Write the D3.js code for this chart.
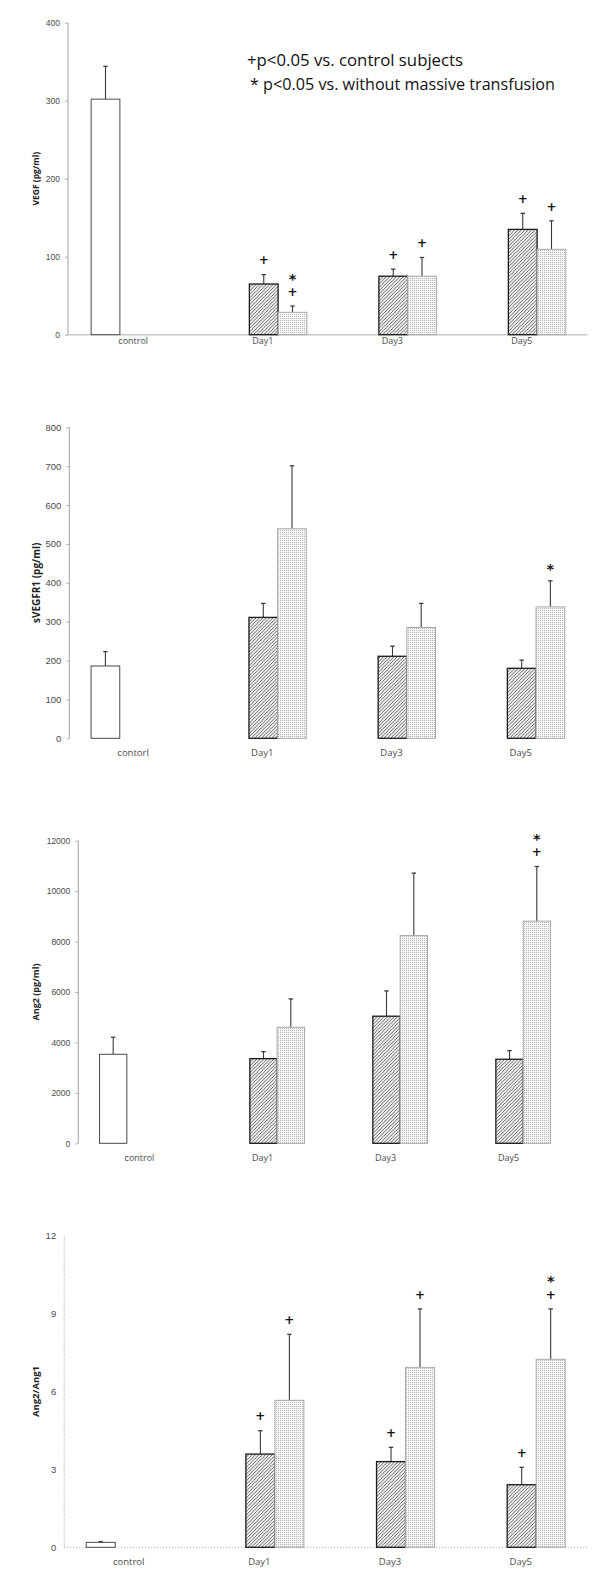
<!DOCTYPE html>
<html><head><meta charset="utf-8">
<script src="https://cdn.jsdelivr.net/npm/d3@7/dist/d3.min.js"></script>
<style>
html,body{margin:0;padding:0;background:#fff;}
svg{display:block;}
</style></head>
<body>
<svg id="chart" width="600" height="1588"></svg>
<script>
// ---------------- DATA ----------------
const categories = ["control", "Day1", "Day3", "Day5"];
const seriesNames = ["control subjects", "without massive transfusion", "with massive transfusion"];

// Panel 1: VEGF (pg/ml)
const vegfLabels = ["control", "Day1", "Day3", "Day5"];
const vegfTicks = [0, 100, 200, 300, 400];
const vegfControl = [302], vegfControlSD = [42];
const vegfWithout = [65, 75, 135], vegfWithoutSD = [12, 9, 20.6];
const vegfWith = [28.7, 75, 109.5], vegfWithSD = [8, 24, 36.5];
const vegfMarks = [["Day1", 1, ["+"]], ["Day1", 2, ["+", "*"]], ["Day3", 1, ["+"]], ["Day3", 2, ["+"]], ["Day5", 1, ["+"]], ["Day5", 2, ["+"]]];

// Panel 2: sVEGFR1 (pg/ml)
const sflLabels = ["contorl", "Day1", "Day3", "Day5"];
const sflTicks = [0, 100, 200, 300, 400, 500, 600, 700, 800];
const sflControl = [186], sflControlSD = [37];
const sflWithout = [311, 211, 180], sflWithoutSD = [36, 26, 21];
const sflWith = [539, 285, 338], sflWithSD = [162, 62, 67];
const sflMarks = [["Day5", 2, ["*"]]];

// Panel 3: Ang2 (pg/ml)
const ang2Labels = ["control", "Day1", "Day3", "Day5"];
const ang2Ticks = [0, 2000, 4000, 6000, 8000, 10000, 12000];
const ang2Control = [3530], ang2ControlSD = [676];
const ang2Without = [3357, 5040, 3333], ang2WithoutSD = [278, 1004, 342];
const ang2With = [4603, 8238, 8810], ang2WithSD = [1123, 2476, 2166];
const ang2Marks = [["Day5", 2, ["+", "*"]]];

// Panel 4: Ang2/Ang1
const ratioLabels = ["control", "Day1", "Day3", "Day5"];
const ratioTicks = [0, 3, 6, 9, 12];
const ratioControl = [0.19], ratioControlSD = [0.03];
const ratioWithout = [3.59, 3.30, 2.41], ratioWithoutSD = [0.90, 0.55, 0.67];
const ratioWith = [5.66, 6.93, 7.24], ratioWithSD = [2.54, 2.25, 1.94];
const ratioMarks = [["Day1", 1, ["+"]], ["Day1", 2, ["+"]], ["Day3", 1, ["+"]], ["Day3", 2, ["+"]], ["Day5", 1, ["+"]], ["Day5", 2, ["+", "*"]]];

const legendLines = ["+p<0.05 vs. control subjects", "* p<0.05 vs. without massive transfusion"];

// ---------------- DRAWING ----------------
const svg = d3.select("#chart");
const defs = svg.append("defs");

const hatch = defs.append("pattern").attr("id", "hatch").attr("patternUnits", "userSpaceOnUse")
  .attr("width", 3.4).attr("height", 3.4);
hatch.append("rect").attr("width", 3.4).attr("height", 3.4).attr("fill", "#f4f4f4");
hatch.append("path").attr("d", "M-1,1 L1,-1 M0,3.4 L3.4,0 M2.4,4.4 L4.4,2.4")
  .attr("stroke", "#3a3a3a").attr("stroke-width", 0.8);

const dots = defs.append("pattern").attr("id", "dots").attr("patternUnits", "userSpaceOnUse")
  .attr("width", 2).attr("height", 2);
dots.append("rect").attr("width", 2).attr("height", 2).attr("fill", "#f7f7f7");
dots.append("rect").attr("width", 1).attr("height", 1).attr("fill", "#b4b4b4");

function buildBars(ctrl, ctrlSD, wo, woSD, wi, wiSD) {
  const rows = [{cat: categories[0], s: 0, v: ctrl[0], sd: ctrlSD[0]}];
  categories.slice(1).forEach((c, i) => {
    rows.push({cat: c, s: 1, v: wo[i], sd: woSD[i]});
    rows.push({cat: c, s: 2, v: wi[i], sd: wiSD[i]});
  });
  return rows;
}

const panels = [
  {ylabel: "VEGF (pg/ml)", labels: vegfLabels, ticks: vegfTicks, max: 400,
   bars: buildBars(vegfControl, vegfControlSD, vegfWithout, vegfWithoutSD, vegfWith, vegfWithSD), marks: vegfMarks,
   x0: 69.5, x1: 587.5, axisX: 68, yBottom: 334.7, yTop: 22.7, baseline: "solid", labelX: 36, tickFs: 8.5, catFs: 9, ylFs: 8.5, catY: 343.5},
  {ylabel: "sVEGFR1 (pg/ml)", labels: sflLabels, ticks: sflTicks, max: 800,
   bars: buildBars(sflControl, sflControlSD, sflWithout, sflWithoutSD, sflWith, sflWithSD), marks: sflMarks,
   x0: 69.5, x1: 586.3, axisX: 69.3, yBottom: 738.3, yTop: 427.3, baseline: "none", labelX: 36, tickFs: 9.5, catFs: 9.5, ylFs: 10, catY: 756},
  {ylabel: "Ang2 (pg/ml)", labels: ang2Labels, ticks: ang2Ticks, max: 12000,
   bars: buildBars(ang2Control, ang2ControlSD, ang2Without, ang2WithoutSD, ang2With, ang2WithSD), marks: ang2Marks,
   x0: 79, x1: 571, axisX: 78.3, yBottom: 1143.3, yTop: 840.7, baseline: "none", labelX: 36, tickFs: 8.5, catFs: 9, ylFs: 9, catY: 1161},
  {ylabel: "Ang2/Ang1", labels: ratioLabels, ticks: ratioTicks, max: 12,
   bars: buildBars(ratioControl, ratioControlSD, ratioWithout, ratioWithoutSD, ratioWith, ratioWithSD), marks: ratioMarks,
   x0: 64.4, x1: 587, axisX: 64.2, yBottom: 1547.3, yTop: 1235.7, baseline: "dotted", labelX: 36, tickFs: 9.5, catFs: 9.5, ylFs: 9.5, catY: 1564.5}
];

const fills = ["#ffffff", "url(#hatch)", "url(#dots)"];
const strokes = ["#4a4a4a", "#1a1a1a", "#a8a8a8"];
const strokeW = [1, 1.3, 1];

panels.forEach(p => {
  const g = svg.append("g");
  const x = d3.scaleBand().domain(categories).range([p.x0, p.x1]);
  const bw = x.bandwidth() * 0.222;
  const xs = d3.scaleBand().domain([0, 1, 2]).range([-1.5 * bw, 1.5 * bw]);
  const y = d3.scaleLinear().domain([0, p.max]).range([p.yBottom, p.yTop]);
  const dotted = p.baseline === "dotted";

  // y axis
  const ax = g.append("g").attr("transform", `translate(${p.axisX},0)`)
    .call(d3.axisLeft(y).tickValues(p.ticks).tickSize(3).tickPadding(5).tickFormat(d3.format("d")));
  ax.select(".domain").attr("stroke", "#a0a0a0").attr("stroke-dasharray", dotted ? "1,1.5" : null).attr("d", `M0,${p.yBottom}V${p.yTop}`);
  ax.selectAll(".tick line").attr("stroke", dotted ? "none" : "#b0b0b0");
  ax.selectAll(".tick text").attr("fill", "#4a4a4a").attr("font-size", p.tickFs)
    .attr("font-family", "'Liberation Sans', Arial, sans-serif");

  // baseline
  if (p.baseline !== "none") {
    g.append("line").attr("x1", p.axisX).attr("x2", p.x1).attr("y1", y(0)).attr("y2", y(0))
      .attr("stroke", dotted ? "#a0a0a0" : "#c8c8c8").attr("stroke-width", dotted ? 1 : 1.6)
      .attr("stroke-dasharray", dotted ? "1,2" : null);
  }

  // category labels
  g.selectAll(".cat").data(categories).join("text")
    .attr("x", d => x(d) + x.bandwidth() / 2 - 1).attr("y", p.catY)
    .attr("text-anchor", "middle").attr("font-size", p.catFs).attr("fill", "#4a4a4a")
    .attr("font-family", "'Open Sans', sans-serif")
    .text((d, i) => p.labels[i]);

  // y label
  const cy = (p.yBottom + p.yTop) / 2;
  g.append("text").attr("transform", `translate(${p.labelX},${cy}) rotate(-90)`)
    .attr("text-anchor", "middle").attr("dy", "0.35em").attr("font-size", p.ylFs)
    .attr("font-weight", "bold").attr("fill", "#222").attr("font-family", "'Open Sans', sans-serif")
    .text(p.ylabel);

  // left edge of a bar: band centre + offset of the series inside the cluster
  const cx = d => x(d.cat) + x.bandwidth() / 2 + xs(d.s);

  // error bars
  const eb = g.selectAll(".eb").data(p.bars).join("g");
  eb.append("line").attr("x1", d => cx(d) + bw / 2).attr("x2", d => cx(d) + bw / 2)
    .attr("y1", d => y(d.v)).attr("y2", d => y(d.v + d.sd)).attr("stroke", "#3a3a3a").attr("stroke-width", 1.1);
  eb.append("line").attr("x1", d => cx(d) + bw / 2 - 2.2).attr("x2", d => cx(d) + bw / 2 + 2.2)
    .attr("y1", d => y(d.v + d.sd)).attr("y2", d => y(d.v + d.sd)).attr("stroke", "#3a3a3a").attr("stroke-width", 1.3);

  // bars
  g.selectAll(".bar").data(p.bars).join("rect")
    .attr("x", d => cx(d)).attr("width", bw)
    .attr("y", d => y(d.v)).attr("height", d => y(0) - y(d.v))
    .attr("fill", d => fills[d.s]).attr("stroke", d => strokes[d.s]).attr("stroke-width", d => strokeW[d.s]);

  // significance marks
  const markRows = [];
  p.marks.forEach(([cat, s, syms]) => {
    const b = p.bars.find(r => r.cat === cat && r.s === s);
    syms.forEach((sym, k) => markRows.push({b, sym, k}));
  });
  g.selectAll(".mk").data(markRows).join("text")
    .attr("x", d => cx(d.b) + bw / 2)
    .attr("y", d => y(d.b.v + d.b.sd) - 14.5 - 16 * d.k + (d.sym === "*" ? 8 : 4.2))
    .attr("text-anchor", "middle")
    .attr("font-size", d => d.sym === "*" ? 14.5 : 12)
    .attr("font-weight", "bold")
    .attr("fill", "#111").attr("font-family", "'DejaVu Sans', sans-serif")
    .text(d => d.sym);
});

// legend (panel 1)
const leg = svg.append("g").attr("font-family", "'Open Sans', sans-serif").attr("fill", "#111");
leg.selectAll("text").data(legendLines).join("text")
  .attr("x", (d, i) => i === 0 ? 247 : 250).attr("y", (d, i) => 66 + i * 24)
  .attr("font-size", 15.5)
  .attr("textLength", (d, i) => i === 0 ? 216 : 305)
  .attr("lengthAdjust", "spacingAndGlyphs")
  .text(d => d);
</script>
</body></html>
